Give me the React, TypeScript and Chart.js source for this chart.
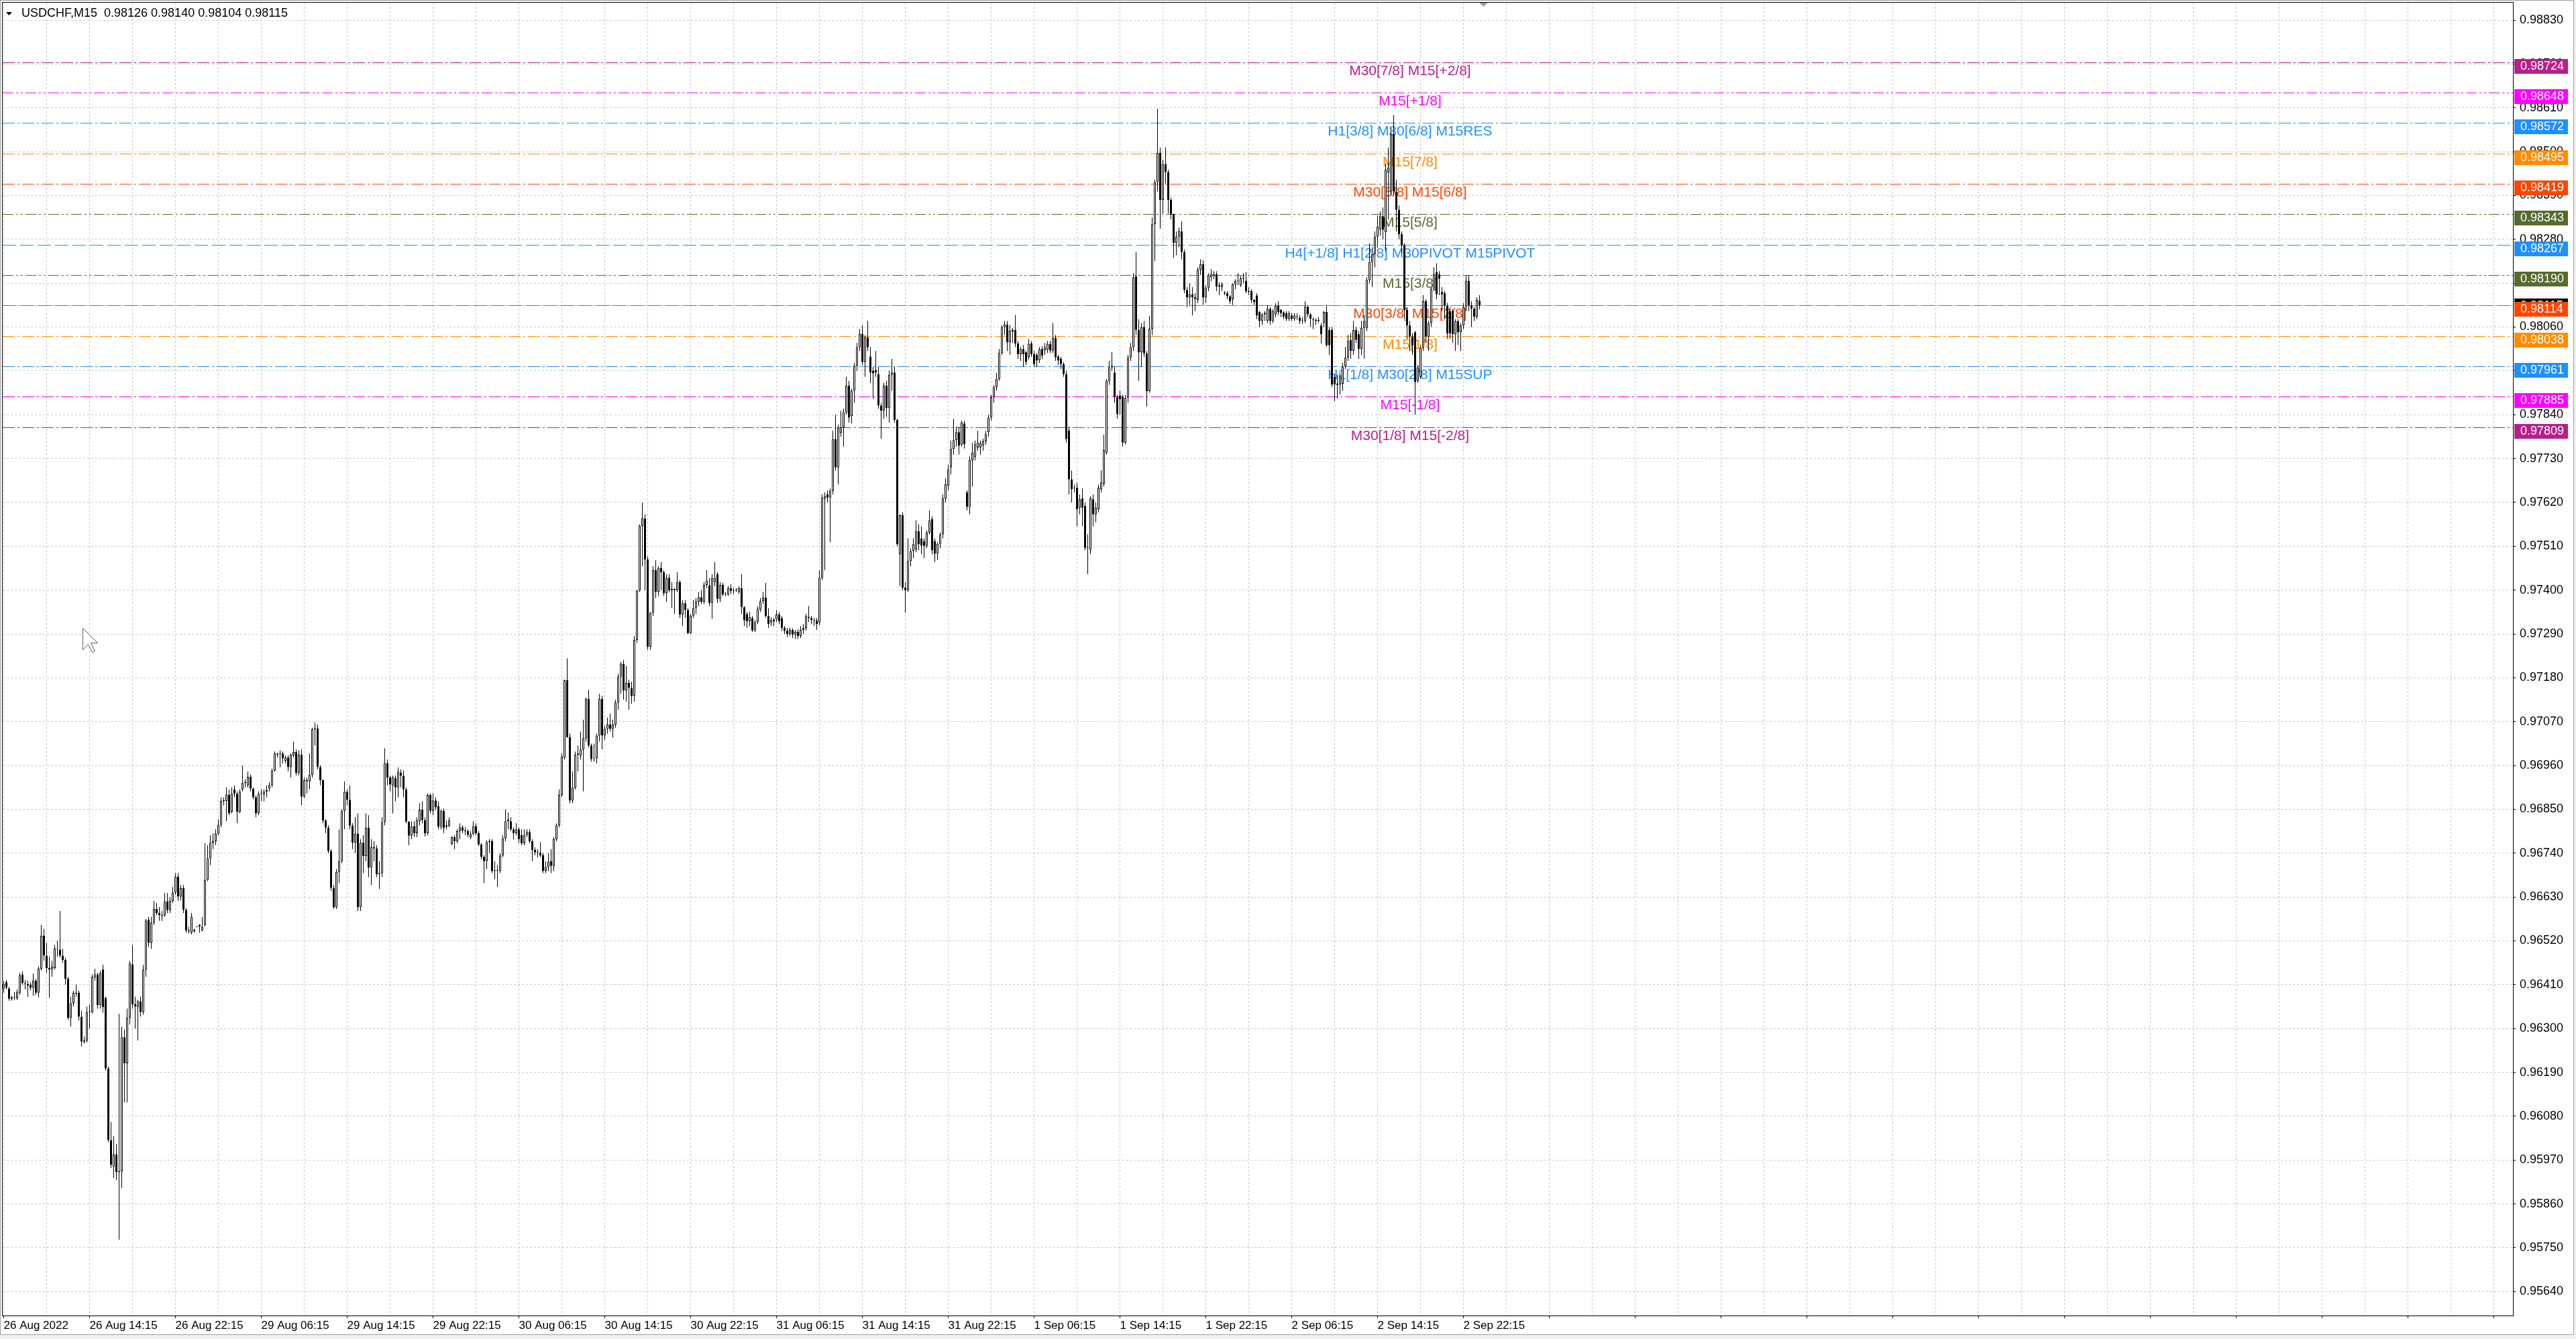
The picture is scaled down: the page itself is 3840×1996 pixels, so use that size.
import React, { useEffect, useRef } from 'react';
import { Chart, registerables } from 'chart.js';

Chart.register(...registerables);

const WIDTH = 3840;
const HEIGHT = 1996;
const FONT = '"Liberation Sans", Arial, sans-serif';

// Prices are stored in points (0.00001) above BASE_PRICE, as [open, high, low, close]
const BASE_PRICE = 0.95;
const POINT = 0.00001;

const aug26 = [
  [1400,1420,1390,1412],[1417,1422,1398,1403],[1400,1405,1370,1375],[1375,1382,1370,1378],[1378,1392,1372,1380],[1376,1398,1372,1392],[1390,1440,1385,1434],[1436,1444,1410,1414],
  [1414,1422,1398,1412],[1412,1420,1380,1408],[1410,1416,1396,1402],[1402,1438,1382,1420],[1420,1424,1384,1390],[1390,1456,1378,1450],[1450,1560,1445,1533],[1533,1550,1470,1483],
  [1483,1515,1440,1452],[1452,1480,1377,1448],[1448,1470,1430,1455],[1452,1510,1448,1501],[1500,1520,1480,1498],[1498,1595,1478,1483],[1483,1500,1465,1472],[1472,1478,1410,1425],
  [1425,1430,1322,1327],[1327,1380,1305,1363],[1363,1395,1355,1390],[1390,1410,1380,1388],[1390,1395,1320,1330],[1330,1345,1255,1267],[1267,1280,1262,1270],[1270,1355,1265,1341],
  [1341,1360,1300,1343],[1341,1436,1338,1430],[1428,1450,1420,1436],[1436,1440,1350,1359],[1359,1445,1350,1439],[1448,1460,1340,1354],[1377,1380,1195,1200],[1200,1205,1015,1020],
  [1020,1066,950,958],[953,1030,925,984],[984,1010,920,940],[940,1337,770,942],[942,1305,900,1278],[1278,1297,1115,1213],[1213,1350,1115,1327],[1327,1470,1310,1463],
  [1461,1510,1350,1361],[1361,1380,1300,1356],[1354,1372,1270,1368],[1368,1380,1330,1341],[1341,1460,1335,1448],[1448,1575,1430,1571],[1573,1580,1505,1515],[1515,1580,1500,1566],
  [1566,1620,1560,1600],[1600,1615,1585,1590],[1590,1605,1570,1585],[1585,1595,1570,1583],[1585,1640,1580,1619],[1619,1640,1590,1597],[1597,1630,1590,1620],[1620,1655,1615,1641],
  [1641,1690,1635,1681],[1681,1690,1620,1631],[1631,1660,1622,1652],[1652,1660,1590,1598],[1598,1602,1540,1546],[1546,1555,1538,1544],[1541,1590,1536,1580]
];

const aug29 = [
  [1548,1550,1540,1545],[1555,1556,1554,1555],[1560,1562,1540,1556],[1546,1580,1544,1555],[1560,1765,1556,1673],[1673,1760,1670,1727],[1727,1785,1710,1766],[1766,1790,1750,1770],
  [1770,1800,1760,1789],[1789,1825,1785,1811],[1811,1880,1805,1871],[1871,1880,1860,1873],[1871,1905,1820,1887],[1887,1900,1835,1840],[1844,1905,1840,1889],[1900,1910,1880,1889],
  [1889,1895,1815,1844],[1844,1900,1840,1894],[1900,1960,1895,1916],[1916,1925,1905,1918],[1910,1945,1905,1932],[1932,1938,1895,1902],[1902,1905,1875,1880],[1880,1885,1830,1840],
  [1840,1895,1835,1889],[1889,1900,1870,1890],[1887,1900,1870,1894],[1894,1910,1880,1898],[1902,1918,1895,1911],[1911,1952,1905,1947],[1947,1995,1945,1990],[1987,1992,1980,1988],
  [1988,1998,1955,1990],[1990,1995,1965,1978],[1972,1985,1965,1980],[1980,1985,1945,1956],[1956,1990,1930,1987],[1985,2020,1980,1994],[1994,2000,1935,1941],[1941,1998,1935,1987],
  [1987,2000,1860,1882],[1882,1930,1878,1923],[1923,1930,1890,1920],[1920,1990,1900,1936],[1936,2055,1930,2051],[2051,2068,2010,2053],[2053,2063,1950,1956],[1956,1960,1910,1923],
  [1923,1925,1815,1822],[1822,1825,1790,1804],[1804,1810,1740,1745],[1745,1750,1645,1653],[1653,1660,1600,1604],[1604,1700,1600,1693],[1693,1800,1665,1720],[1720,1850,1715,1846],
  [1846,1920,1800,1894],[1894,1900,1860,1874],[1874,1910,1800,1809],[1809,1815,1750,1766],[1766,1830,1740,1789],[1789,1840,1595,1604],[1604,1775,1595,1766],[1766,1785,1690,1733],
  [1733,1840,1720,1804],[1804,1835,1680,1704],[1704,1775,1660,1755],[1755,1770,1720,1752],[1752,1760,1680,1687],[1687,1720,1650,1690],[1690,1830,1680,1818],[1818,2003,1810,1966],
  [1966,1975,1910,1930],[1930,1935,1895,1912],[1910,1935,1840,1930],[1928,1935,1870,1905],[1905,1955,1880,1944],[1942,1950,1905,1934],[1934,1948,1880,1900],[1900,1905,1815,1819],
  [1819,1820,1760,1784],[1784,1820,1775,1808],[1808,1820,1780,1790],[1790,1830,1780,1823],[1820,1865,1810,1849],[1849,1870,1815,1823],[1823,1830,1782,1790],[1790,1890,1785,1886],
  [1886,1890,1840,1846],[1846,1890,1835,1872],[1872,1880,1848,1855],[1858,1870,1800,1806],[1806,1850,1800,1846],[1846,1852,1790,1803],[1806,1822,1800,1810],[1808,1830,1805,1823]
];

const aug30 = [
  [1763,1782,1760,1780],[1780,1785,1750,1770],[1770,1800,1765,1795],[1795,1815,1775,1805],[1805,1810,1790,1797],[1797,1805,1785,1795],[1795,1800,1780,1786],[1780,1795,1775,1788],
  [1788,1820,1785,1808],[1808,1815,1785,1790],[1790,1795,1758,1762],[1762,1765,1725,1731],[1731,1735,1665,1720],[1720,1772,1700,1768],[1768,1775,1740,1770],[1770,1775,1690,1695],
  [1695,1720,1675,1697],[1697,1710,1655,1695],[1695,1740,1690,1734],[1734,1785,1730,1777],[1777,1850,1770,1820],[1824,1842,1800,1820],[1820,1830,1795,1800],[1800,1805,1775,1790],
  [1790,1815,1785,1800],[1800,1805,1765,1775],[1785,1800,1760,1765],[1765,1800,1760,1786],[1786,1800,1780,1793],[1793,1800,1765,1770],[1770,1775,1720,1748],[1748,1755,1735,1742],
  [1742,1750,1730,1741],[1741,1768,1730,1734],[1735,1740,1690,1695],[1695,1720,1690,1705],[1705,1740,1695,1718],[1720,1750,1690,1708],[1708,1780,1695,1775],[1775,1815,1770,1810],
  [1810,1900,1805,1886],[1886,1990,1880,1982],[1980,2175,1975,2174],[2174,2229,2030,2031],[2031,2040,1865,1872],[1872,1945,1865,1904],[1904,1995,1900,1987],[1987,2010,1945,1990],
  [1985,2045,1975,2000],[2000,2075,1895,2028],[2028,2130,2020,2127],[2127,2150,2005,2010],[2010,2015,1970,1976],[1976,2015,1970,1978],[1978,2040,1965,2035],[2035,2140,2020,2127],
  [2127,2135,2000,2035],[2035,2060,2025,2052],[2052,2080,2040,2063],[2063,2090,2045,2052],[2052,2075,2030,2063],[2063,2125,2055,2118],[2118,2190,2100,2183],[2183,2220,2140,2215],
  [2215,2225,2125,2148],[2148,2210,2120,2167],[2167,2175,2100,2155],[2155,2170,2115,2134],[2135,2285,2120,2275],[2275,2400,2268,2399],[2399,2565,2395,2561],[2561,2620,2460,2580],
  [2580,2590,2400,2477],[2477,2485,2250,2258],[2258,2345,2250,2343],[2343,2460,2335,2450],[2450,2475,2380,2396],[2396,2460,2385,2456],[2456,2470,2400,2445],[2445,2450,2385,2392],
  [2392,2440,2370,2431],[2431,2440,2395,2400],[2400,2420,2355,2403],[2403,2405,2340,2400],[2400,2445,2395,2420],[2420,2425,2330,2339],[2339,2375,2310,2367],[2367,2375,2330,2350],
  [2350,2355,2290,2292],[2292,2340,2290,2336],[2336,2375,2330,2355],[2355,2380,2340,2371],[2371,2395,2360,2382],[2382,2400,2365,2371],[2371,2420,2365,2413],[2413,2450,2405,2424]
];

const aug31 = [
  [2412,2430,2360,2368],[2368,2440,2328,2430],[2420,2470,2410,2430],[2440,2445,2368,2378],[2378,2420,2370,2413],[2413,2418,2385,2389],[2389,2395,2385,2389],[2389,2410,2385,2405],
  [2405,2415,2390,2398],[2398,2405,2390,2400],[2400,2405,2395,2401],[2395,2410,2390,2405],[2405,2440,2340,2357],[2357,2360,2310,2324],[2340,2345,2305,2322],[2322,2345,2310,2332],
  [2330,2335,2295,2299],[2299,2325,2295,2320],[2320,2360,2315,2353],[2351,2380,2345,2372],[2372,2395,2365,2381],[2381,2418,2330,2335],[2335,2355,2305,2315],[2318,2332,2310,2325],
  [2326,2330,2310,2322],[2326,2350,2320,2339],[2339,2345,2315,2322],[2330,2335,2298,2305],[2305,2310,2290,2298],[2298,2305,2282,2290],[2290,2306,2285,2300],[2300,2304,2280,2288],
  [2288,2300,2278,2295],[2295,2302,2278,2285],[2285,2310,2280,2300],[2300,2315,2290,2305],[2305,2340,2298,2335],[2333,2360,2320,2330],[2330,2335,2315,2325],[2325,2330,2310,2324],
  [2324,2330,2300,2315],[2318,2450,2312,2431],[2431,2640,2425,2632],[2630,2645,2450,2636],[2640,2650,2620,2632],[2632,2655,2520,2649],[2649,2800,2640,2779],[2779,2840,2700,2708],
  [2708,2815,2665,2808],[2795,2850,2785,2808],[2808,2855,2760,2846],[2846,2935,2840,2913],[2913,2925,2820,2833],[2837,2905,2818,2900],[2900,2970,2870,2963],[2963,3020,2950,3009],
  [3009,3055,3000,3043],[3043,3065,2965,2972],[2972,3040,2935,3034],[3034,3075,3000,3009],[2986,3010,2920,2946],[2950,2960,2880,2944],[2952,3000,2935,2946],[2942,2960,2855,2863],
  [2863,2870,2780,2850],[2850,2920,2830,2913],[2913,2925,2835,2857],[2857,2950,2820,2940],[2940,2980,2900,2946],[2946,2960,2820,2827],[2827,2830,2510,2515],[2490,2590,2410,2588],
  [2588,2595,2400,2406],[2406,2420,2343,2400],[2400,2530,2395,2473],[2473,2505,2460,2498],[2498,2530,2480,2515],[2502,2575,2495,2548],[2548,2565,2500,2515],[2530,2560,2490,2512],
  [2523,2530,2480,2511],[2511,2550,2505,2544],[2544,2600,2540,2575],[2578,2585,2490,2500],[2523,2530,2470,2491],[2491,2520,2475,2516],[2516,2545,2505,2540],[2540,2640,2530,2630],
  [2630,2680,2620,2666],[2661,2715,2650,2703],[2708,2775,2690,2754],[2754,2830,2740,2776],[2776,2810,2760,2796],[2796,2810,2740,2762],[2765,2825,2760,2821],[2818,2825,2755,2766]
];

const sep01 = [
  [2645,2650,2600,2609],[2609,2735,2590,2726],[2726,2770,2660,2745],[2734,2775,2725,2766],[2758,2800,2750,2770],[2758,2775,2740,2768],[2762,2780,2750,2773],[2773,2800,2765,2791],
  [2796,2840,2785,2833],[2833,2890,2825,2884],[2884,2915,2870,2909],[2909,2945,2900,2930],[2930,3005,2925,2995],[2995,3065,2990,3060],[3060,3075,3040,3066],[3066,3075,3000,3022],
  [3022,3065,2990,3051],[3049,3058,3020,3053],[3053,3090,3010,3019],[3019,3025,2980,2992],[2992,3010,2975,3005],[3005,3015,2960,2992],[2997,3000,2965,2972],[2984,3030,2978,3018],
  [3019,3025,2985,2992],[2992,3000,2960,2967],[2990,2995,2960,2976],[2977,3010,2970,3005],[3005,3012,2980,2988],[3001,3020,2990,3009],[3003,3025,2995,3018],[3018,3025,2995,3001],
  [3001,3070,2995,3033],[3033,3040,2975,2984],[2986,2990,2965,2976],[2980,2985,2955,2967],[2967,2972,2935,2942],[2942,2950,2770,2779],[2801,2810,2640,2678],[2678,2700,2620,2653],
  [2657,2665,2645,2656],[2657,2670,2560,2603],[2607,2640,2590,2628],[2630,2655,2560,2607],[2611,2620,2500,2506],[2506,2540,2440,2505],[2502,2635,2490,2630],[2628,2640,2560,2590],
  [2590,2620,2570,2607],[2603,2665,2595,2657],[2653,2700,2645,2670],[2667,2790,2660,2751],[2745,2930,2740,2925],[2925,2975,2915,2959],[2959,2997,2950,2963],[2946,2960,2870,2884],
  [2884,2890,2830,2842],[2888,2900,2840,2879],[2886,2890,2760,2770],[2770,2890,2765,2882],[2882,2990,2870,2984],[2984,3020,2975,3009],[3009,3195,3000,3185],[3187,3248,3040,3053],
  [3053,3080,2925,2997],[2997,3070,2960,3060],[3060,3075,2985,2994],[2994,3000,2860,2899],[2899,3088,2895,3056],[3056,3335,3040,3318],[3318,3430,3226,3424],[3424,3608,3400,3497],
  [3497,3510,3307,3379],[3379,3480,3345,3469],[3469,3511,3420,3449],[3449,3455,3345,3379],[3379,3385,3330,3343],[3343,3345,3234,3271],[3271,3300,3240,3287],[3287,3310,3260,3300],
  [3300,3325,3230,3248],[3248,3255,3145,3153],[3153,3160,3110,3134],[3134,3170,3115,3142],[3142,3160,3089,3134],[3130,3145,3100,3135],[3128,3210,3120,3204],[3204,3230,3190,3218],
  [3218,3228,3115,3134],[3134,3165,3120,3159],[3159,3195,3150,3190],[3185,3205,3175,3192],[3188,3200,3180,3193],[3193,3200,3150,3162],[3162,3172,3140,3165],[3160,3172,3150,3168]
];

const sep02 = [
  [3145,3150,3140,3145],[3145,3150,3130,3137],[3137,3140,3118,3125],[3130,3170,3115,3167],[3167,3180,3155,3176],[3176,3195,3165,3175],[3165,3188,3160,3182],[3182,3195,3170,3182],
  [3176,3198,3145,3150],[3150,3160,3140,3148],[3150,3155,3120,3128],[3128,3130,3115,3123],[3139,3145,3080,3089],[3098,3100,3060,3075],[3075,3095,3065,3092],[3092,3100,3075,3096],
  [3075,3115,3070,3106],[3106,3110,3065,3075],[3075,3105,3070,3100],[3092,3120,3085,3114],[3114,3125,3090,3097],[3103,3105,3085,3095],[3097,3100,3080,3086],[3095,3100,3075,3081],
  [3081,3100,3075,3094],[3089,3095,3075,3081],[3081,3095,3075,3089],[3085,3095,3078,3086],[3083,3090,3068,3075],[3075,3085,3068,3076],[3075,3125,3070,3111],[3111,3115,3085,3092],
  [3092,3095,3060,3081],[3080,3085,3055,3078],[3078,3082,3065,3075],[3075,3085,3070,3078],[3064,3070,3019,3042],[3070,3100,3060,3098],[3098,3115,3010,3014],[3053,3060,2990,3014],
  [3053,3060,2910,2916],[2935,2940,2874,2916],[2915,2940,2880,2918],[2916,2945,2891,2938],[2918,2970,2900,2961],[2961,3010,2955,2983],[2983,3040,2975,3025],[3028,3045,2980,3000],
  [3000,3075,2990,3053],[3053,3060,3020,3028],[3042,3050,2980,3005],[3005,3075,2990,3058],[3058,3090,2980,3075],[3058,3185,3050,3178],[3178,3270,3170,3223],[3223,3260,3160,3243],
  [3243,3300,3210,3287],[3287,3340,3260,3312],[3304,3350,3290,3338],[3338,3360,3280,3304],[3298,3470,3250,3455],[3448,3510,3330,3460],[3400,3560,3390,3544],[3544,3592,3390,3400],
  [3400,3430,3300,3354],[3354,3365,3280,3293],[3293,3300,3245,3265],[3265,3270,3080,3103],[3103,3110,3030,3064],[3064,3075,3000,3036],[3036,3045,2990,3014],[3047,3050,2840,2922],
  [2925,2965,2920,2958],[2935,3015,2930,3008],[3008,3140,3000,3125],[3125,3130,3020,3036],[3036,3075,3000,3070],[3070,3160,3060,3156],[3156,3210,3150,3192],[3198,3220,3130,3142],
  [3192,3200,3140,3181],[3148,3160,3100,3142],[3145,3150,3080,3114],[3114,3120,3030,3044],[3100,3110,3030,3044],[3100,3105,3020,3042],[3042,3080,3000,3075],[3075,3080,3015,3047],
  [3047,3070,3000,3064],[3064,3120,3055,3111],[3111,3190,3100,3176],[3176,3190,3100,3114],[3114,3125,3060,3106],[3106,3110,3075,3086],[3086,3135,3080,3128],[3126,3140,3104,3115]
];

// x tick labels, one every 32 bars (8 hours), starting at bar 0
const xTickLabels = [
  '26 Aug 2022', '26 Aug 14:15', '26 Aug 22:15', '29 Aug 06:15', '29 Aug 14:15', '29 Aug 22:15',
  '30 Aug 06:15', '30 Aug 14:15', '30 Aug 22:15', '31 Aug 06:15', '31 Aug 14:15', '31 Aug 22:15',
  '1 Sep 06:15', '1 Sep 14:15', '1 Sep 22:15', '2 Sep 06:15', '2 Sep 14:15', '2 Sep 22:15'
];
const xTickValues = [
  0,16,32,48,64,80,96,112,128,144,160,176,192,208,224,240,256,272,288,304,320,336,352,368,384,400,
  416,432,448,464,480,496,512,528,544,560,576,592,608,624,640,656,672,688,704,720,736,752,768,784,
  800,816,832,848,864,880,896,912,928
];
const yTickValues = [
  0.95640,0.95750,0.95860,0.95970,0.96080,0.96190,0.96300,0.96410,0.96520,0.96630,
  0.96740,0.96850,0.96960,0.97070,0.97180,0.97290,0.97400,0.97510,0.97620,0.97730,
  0.97840,0.97950,0.98060,0.98170,0.98280,0.98390,0.98500,0.98610,0.98720,0.98830
];

const levelValues = [0.98724,0.98648,0.98572,0.98495,0.98419,0.98343,0.98267,0.98190,0.98114,0.98038,0.97961,0.97885,0.97809];
const levelLabels = [
  'M30[7/8] M15[+2/8]', 'M15[+1/8]', 'H1[3/8] M30[6/8] M15RES', 'M15[7/8]', 'M30[5/8] M15[6/8]', 'M15[5/8]',
  'H4[+1/8] H1[2/8] M30PIVOT M15PIVOT', 'M15[3/8]', 'M30[3/8] M15[2/8]', 'M15[1/8]', 'H1[1/8] M30[2/8] M15SUP',
  'M15[-1/8]', 'M30[1/8] M15[-2/8]'
];
const levelColors = ['#B4208C','#FF00FF','#1E90FF','#FF8C00','#FF4500','#556B2F','#1E90FF','#556B2F','#FF4500','#FF8C00','#1E90FF','#FF00FF','#B4208C'];
const levelStyles = ['dashdot','dashdotdot','dashdot','dashdot','dashdot','dashdotdot','dash','dashdotdot','dash','dashdot','dashdot','dashdot','dashdot'];
const levelTextBar = 524.1;

const bidPrice = 0.98115;
const titleText = 'USDCHF,M15  0.98126 0.98140 0.98104 0.98115';

const DASHES: Record<string, number[]> = {
  dash: [20, 6],
  dashdot: [18, 4, 3, 4],
  dashdotdot: [16, 4, 3, 4, 3, 4]
};

const X_MIN = -0.375;
const X_MAX = 935.125;
const Y_MIN = 0.9558;
const Y_MAX = 0.988738;

const candles = [...aug26, ...aug29, ...aug30, ...aug31, ...sep01, ...sep02];
const toPrice = (p: number) => +(BASE_PRICE + p * POINT).toFixed(5);

const wickData = candles.map((c, i) => ({ x: i, y: [toPrice(c[2]), toPrice(c[1])] }));
const bodyData = candles.map((c, i) => ({ x: i, y: [toPrice(c[0]), toPrice(c[3])] }));
const bodyColors = candles.map((c) => (c[3] >= c[0] ? '#ffffff' : '#000000'));

const mt4Plugin = {
  id: 'mt4',
  beforeDraw(chart: any) {
    const { ctx } = chart;
    ctx.save();
    ctx.fillStyle = '#ffffff';
    ctx.fillRect(0, 0, WIDTH, HEIGHT);
    ctx.restore();
  },
  beforeDatasetsDraw(chart: any) {
    const { ctx, chartArea: a, scales } = chart;
    const x = scales.x;
    const y = scales.y;
    ctx.save();
    ctx.beginPath();
    ctx.rect(a.left, a.top, a.right - a.left, a.bottom - a.top);
    ctx.clip();
    ctx.lineWidth = 1;
    const by = Math.round(y.getPixelForValue(bidPrice)) + 0.5;
    ctx.strokeStyle = '#c0c0c0';
    ctx.setLineDash([]);
    ctx.beginPath();
    ctx.moveTo(a.left, by);
    ctx.lineTo(a.right, by);
    ctx.stroke();
    levelValues.forEach((v, i) => {
      const py = Math.round(y.getPixelForValue(v)) + 0.5;
      ctx.strokeStyle = levelColors[i];
      ctx.setLineDash(DASHES[levelStyles[i]]);
      ctx.beginPath();
      ctx.moveTo(a.left, py);
      ctx.lineTo(a.right, py);
      ctx.stroke();
    });
    ctx.setLineDash([]);
    const tx = x.getPixelForValue(levelTextBar);
    ctx.font = `21px ${FONT}`;
    ctx.textAlign = 'center';
    ctx.textBaseline = 'alphabetic';
    levelValues.forEach((v, i) => {
      const py = Math.round(y.getPixelForValue(v));
      ctx.fillStyle = levelColors[i];
      ctx.fillText(levelLabels[i], tx, py + 19);
    });
    ctx.restore();
  },
  afterDraw(chart: any) {
    const { ctx, chartArea: a, scales } = chart;
    const y = scales.y;
    ctx.save();
    // window edges
    ctx.fillStyle = '#f0f0f0';
    ctx.fillRect(3837, 0, WIDTH - 3837, HEIGHT);
    ctx.fillRect(0, 1990, WIDTH, HEIGHT - 1990);
    ctx.strokeStyle = '#a0a0a0';
    ctx.lineWidth = 1;
    ctx.strokeRect(0.5, 0.5, 3836, 1989);
    // plot frame
    ctx.strokeStyle = '#000000';
    ctx.strokeRect(a.left - 0.5, a.top - 0.5, a.right - a.left + 1, a.bottom - a.top + 1);
    // price boxes on the axis
    ctx.font = `18px ${FONT}`;
    ctx.textAlign = 'left';
    ctx.textBaseline = 'middle';
    const bpy = Math.round(y.getPixelForValue(bidPrice));
    ctx.fillStyle = '#000000';
    ctx.fillRect(a.right + 2, bpy - 10, 80, 22);
    ctx.fillStyle = '#ffffff';
    ctx.fillText(bidPrice.toFixed(5), a.right + 11, bpy + 1);
    levelValues.forEach((v, i) => {
      const py = Math.round(y.getPixelForValue(v));
      ctx.fillStyle = levelColors[i];
      ctx.fillRect(a.right + 2, py - 5, 80, 22);
      ctx.fillStyle = '#ffffff';
      ctx.fillText(v.toFixed(5), a.right + 11, py + 6);
    });
    // title
    ctx.fillStyle = '#000000';
    ctx.beginPath();
    ctx.moveTo(9, 18);
    ctx.lineTo(18, 18);
    ctx.lineTo(13.5, 23);
    ctx.closePath();
    ctx.fill();
    ctx.textBaseline = 'alphabetic';
    ctx.fillText(titleText, 32, 25);
    // chart shift marker
    ctx.fillStyle = '#a0a0a0';
    ctx.beginPath();
    ctx.moveTo(2205, 4);
    ctx.lineTo(2218, 4);
    ctx.lineTo(2211.5, 10);
    ctx.closePath();
    ctx.fill();
    // mouse cursor
    const cx = 123, cy = 936;
    const pts = [[0,0],[0,32],[8,24],[14,36],[18,34],[12,22],[22,22]];
    ctx.beginPath();
    pts.forEach((p, i) => (i === 0 ? ctx.moveTo(cx + p[0] + 0.5, cy + p[1] + 0.5) : ctx.lineTo(cx + p[0] + 0.5, cy + p[1] + 0.5)));
    ctx.closePath();
    ctx.fillStyle = '#ffffff';
    ctx.fill();
    ctx.strokeStyle = '#606060';
    ctx.stroke();
    ctx.restore();
  }
};

export default function App() {
  const ref = useRef<HTMLCanvasElement>(null);
  useEffect(() => {
    const canvas = ref.current;
    if (!canvas) return;
    Chart.defaults.font.family = FONT;
    const chart = new Chart(canvas, {
      type: 'bar',
      data: {
        datasets: [
          {
            label: 'body',
            data: bodyData as any,
            backgroundColor: bodyColors,
            borderColor: '#000000',
            borderWidth: 1,
            borderSkipped: false,
            barThickness: 3,
            minBarLength: 1,
            grouped: false,
            inflateAmount: 0,
            order: 0
          } as any,
          {
            label: 'wick',
            data: wickData as any,
            backgroundColor: '#000000',
            borderWidth: 0,
            barThickness: 1,
            minBarLength: 1,
            grouped: false,
            inflateAmount: 0,
            order: 1
          } as any
        ]
      },
      options: {
        animation: false,
        responsive: false,
        maintainAspectRatio: false,
        devicePixelRatio: 1,
        events: [],
        layout: { padding: { left: 4, top: 4, right: 0, bottom: 0 } },
        plugins: { legend: { display: false }, tooltip: { enabled: false }, title: { display: false } },
        scales: {
          x: {
            type: 'linear',
            min: X_MIN,
            max: X_MAX,
            offset: false,
            afterBuildTicks: (s: any) => { s.ticks = xTickValues.map((v) => ({ value: v })); },
            afterFit: (s: any) => { s.height = 35; s.paddingLeft = 0; s.paddingRight = 0; },
            ticks: {
              autoSkip: false,
              maxRotation: 0,
              minRotation: 0,
              align: 'start',
              padding: 1,
              color: '#000000',
              font: { family: FONT, size: 17 },
              callback: (value: any) => {
                const v = Number(value);
                if (v % 32 !== 0) return '';
                return xTickLabels[v / 32] ?? '';
              }
            },
            grid: {
              offset: false,
              color: '#c8c8c8',
              lineWidth: 1,
              drawTicks: true,
              tickLength: 4,
              tickWidth: 1,
              tickColor: (c: any) => (c.tick && Number(c.tick.value) % 32 === 0 ? '#000000' : 'rgba(0,0,0,0)')
            },
            border: { display: false, dash: [3, 3] }
          } as any,
          y: {
            type: 'linear',
            position: 'right',
            min: Y_MIN,
            max: Y_MAX,
            afterBuildTicks: (s: any) => { s.ticks = yTickValues.map((v) => ({ value: v })); },
            afterFit: (s: any) => { s.width = 94; s.paddingTop = 0; s.paddingBottom = 0; },
            ticks: {
              autoSkip: false,
              padding: 6,
              color: '#000000',
              font: { family: FONT, size: 18 },
              callback: (value: any) => Number(value).toFixed(5)
            },
            grid: { color: '#c8c8c8', lineWidth: 1, tickLength: 4, tickColor: '#000000', tickWidth: 1 },
            border: { display: false, dash: [3, 3] }
          } as any
        }
      } as any,
      plugins: [mt4Plugin]
    });
    return () => chart.destroy();
  }, []);
  return (
    <div style={{ position: 'absolute', left: 0, top: 0, width: WIDTH, height: HEIGHT }}>
      <canvas ref={ref} width={WIDTH} height={HEIGHT} style={{ display: 'block', width: WIDTH, height: HEIGHT }} />
    </div>
  );
}
